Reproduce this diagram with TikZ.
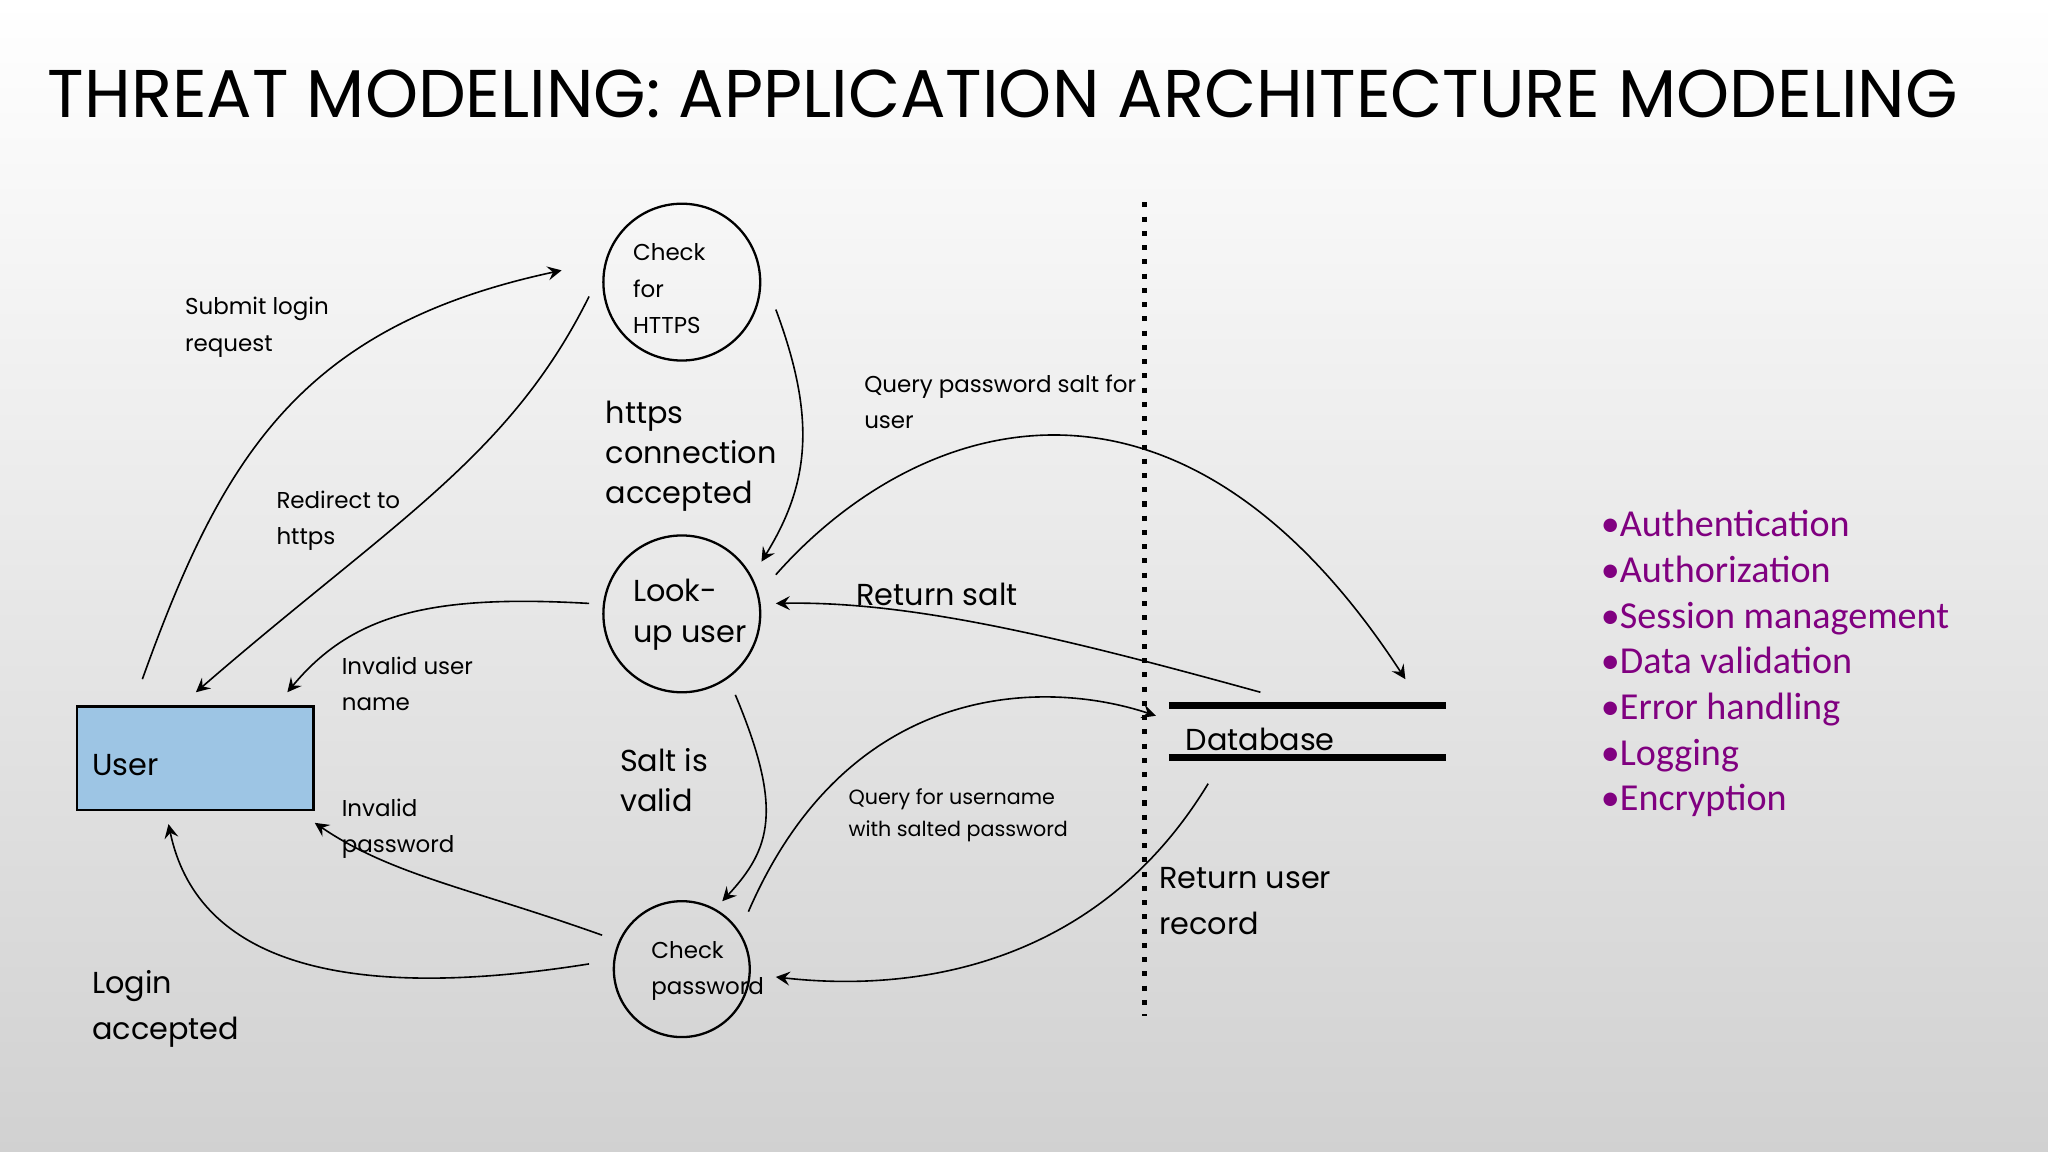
\documentclass[tikz,border=0pt]{standalone}
\usepackage{fontspec}
\setmainfont{Poppins}
\newfontfamily\listfont{Carlito}
\definecolor{userblue}{RGB}{157,197,228}
\definecolor{listpurple}{RGB}{128,0,128}
\begin{document}
\begin{tikzpicture}[x=0.01cm,y=-0.01cm,
  lbl/.style={font=\fontsize{5.0}{7.9}\selectfont,align=left,anchor=north west,inner sep=0},
  big/.style={font=\fontsize{6.6}{8.8}\selectfont,align=left,anchor=north west,inner sep=0},
  proc/.style={draw,circle,line width=0.5pt},
  flow/.style={->,>=stealth,line width=0.35pt}]
\shade[top color=white,bottom color=black!18] (0,0) rectangle (1568,882);
\useasboundingbox (0,0) rectangle (1568,882);
\node[anchor=west,inner sep=0,font=\fontsize{14.7}{16}\selectfont] (title) at (36,72) {THREAT MODELING: APPLICATION ARCHITECTURE MODELING};
% processes
\node[proc,minimum size=1.2cm] (https) at (522,216) {};
\node[lbl] (httpst) at (484,186) {Check\\for\\HTTPS};
\node[proc,minimum size=1.2cm] (lookup) at (522,470) {};
\node[big] (lookupt) at (484,443) {Look-\\up user};
\node[proc,minimum size=1.04cm] (checkpw) at (522,742) {};
\node[lbl] (checkpwt) at (498,720) {Check\\password};
\node[draw,fill=userblue,line width=0.5pt,minimum width=1.81cm,minimum height=0.79cm] (user) at (149.5,580.5) {};
\node[big,anchor=west] (usert) at (70,586) {User};
% datastore
\draw[line width=1.6pt] (895,540) coordinate (db1) -- (1107,540) coordinate (db2);
\draw[line width=1.6pt] (895,580) coordinate (db3) -- (1107,580) coordinate (db4);
\node[big,anchor=west] (dbt) at (907,566) {Database};
% trust boundary
\draw[line width=1.1pt,dotted] (876,155) coordinate (tb1) -- (876,778) coordinate (tb2);
% connector end points
\coordinate (a1) at (109,520); \coordinate (a2) at (430,207);
\coordinate (b1) at (451,227); \coordinate (b2) at (150,530);
\coordinate (c1) at (594,237); \coordinate (c2) at (583,430);
\coordinate (d1) at (594,440); \coordinate (d2) at (1076,520);
\coordinate (e1) at (965,530); \coordinate (e2) at (594,462);
\coordinate (f1) at (451,462); \coordinate (f2) at (220,530);
\coordinate (g1) at (563,532); \coordinate (g2) at (553,690);
\coordinate (h1) at (573,698); \coordinate (h2) at (885,548);
\coordinate (i1) at (925,600); \coordinate (i2) at (594,748);
\coordinate (j1) at (461,716); \coordinate (j2) at (241,630);
\coordinate (k1) at (451,738); \coordinate (k2) at (129,631);
\draw[flow] (a1) .. controls (170,350) and (230,250) .. (a2);
\draw[flow] (b1) .. controls (390,350) and (300,400) .. (b2);
\draw[flow] (c1) .. controls (625,320) and (620,370) .. (c2);
\draw[flow] (d1) .. controls (700,320) and (900,250) .. (d2);
\draw[flow] (e1) .. controls (820,490) and (700,460) .. (e2);
\draw[flow] (f1) .. controls (330,455) and (270,470) .. (f2);
\draw[flow] (g1) .. controls (600,620) and (590,650) .. (g2);
\draw[flow] (h1) .. controls (650,520) and (800,520) .. (h2);
\draw[flow] (i1) .. controls (840,740) and (700,760) .. (i2);
\draw[flow] (j1) .. controls (360,680) and (300,670) .. (j2);
\draw[flow] (k1) .. controls (250,770) and (150,730) .. (k2);
% labels
\node[lbl] (l1) at (141,227) {Submit login\\request};
\node[lbl] (l2) at (211,375) {Redirect to\\https};
\node[big] (l3) at (463,306) {https\\connection\\accepted};
\node[lbl] (l4) at (661,286) {Query password salt for\\user};
\node[big] (l5) at (655,446) {Return salt};
\node[lbl] (l6) at (261,502) {Invalid user\\name};
\node[big] (l7) at (474,572) {Salt is\\valid};
\node[lbl,font=\fontsize{4.5}{7}\selectfont] (l8) at (649,603) {Query for username\\with salted password};
\node[lbl] (l9) at (261,611) {Invalid\\password};
\node[big,font=\fontsize{6.6}{10.2}\selectfont] (l10) at (887,663) {Return user\\record};
\node[big,font=\fontsize{6.6}{10.2}\selectfont] (l11) at (70,742) {Login\\accepted};
\node[anchor=north west,inner sep=0,align=left,text=listpurple,font=\listfont\fontsize{8.3}{9.95}\selectfont] (list) at (1225,390)
 {•Authentication\\•Authorization\\•Session management\\•Data validation\\•Error handling\\•Logging\\•Encryption};
\end{tikzpicture}
\end{document}
